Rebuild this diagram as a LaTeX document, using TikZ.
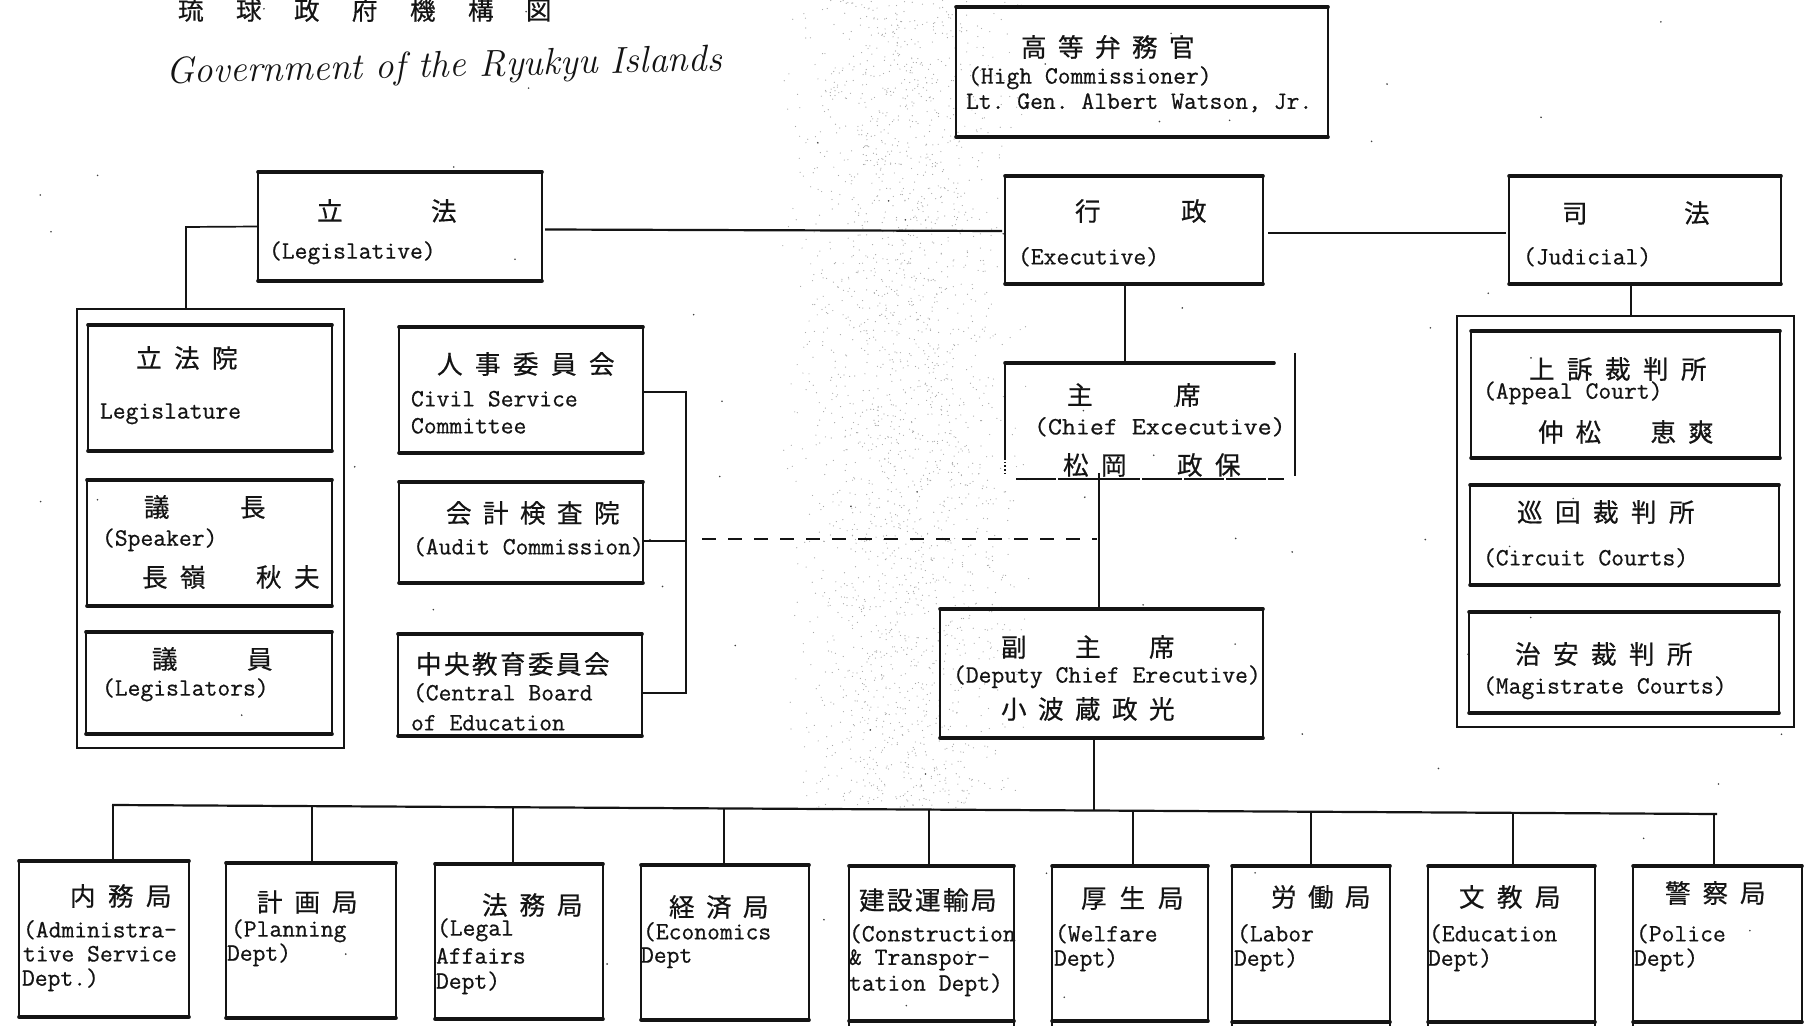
\documentclass[tikz,border=0pt]{standalone}
\usepackage{fontspec}
\usetikzlibrary{calc}
\newfontfamily\cjk[FakeBold=0.5]{Noto Sans CJK JP}
\setmonofont[FakeBold=0.6]{Latin Modern Mono}
\newcommand{\cjseq}[2]{\foreach \c in {#2}{\makebox[\dimexpr #1pt/2\relax][l]{\c}}}
\newcommand{\boxat}[6][boxn]{%
  \pgfmathsetmacro\bw{#5-#3}\pgfmathsetmacro\bh{#6-#4}%
  \pgfmathsetmacro\bx{(#3+#5)/2}\pgfmathsetmacro\by{(#4+#6)/2}%
  \node[#1,minimum width=\bw*0.5pt,minimum height=\bh*0.5pt] (#2) at (\bx,\by) {};}
\newcommand{\tw}[4]{\node[twtext] (#1) at (#2,#3) {#4};}
\newcommand{\cj}[5]{\node[cjtext] (#1) at (#2,#3) {\cjseq{#4}{#5}};}
\tikzset{
  x=0.5pt,y=-0.5pt,
  boxn/.style={draw=inkc,line width=0.95pt,inner sep=0pt,outer sep=0pt,fill=none},
  ghost/.style={inner sep=0pt,outer sep=0pt},
  edge/.style={draw=inkc,line width=1.8pt,line cap=round},
  conn/.style={draw=inkc,line width=0.85pt},
  conb/.style={draw=inkc,line width=1.1pt},
  twtext/.style={anchor=west,inner sep=0pt,outer sep=0pt,yshift=-0.4pt,text=inkc,font=\ttfamily\fontsize{12.45}{14}\selectfont},
  cjtext/.style={anchor=west,inner sep=0pt,outer sep=0pt,text=inkc,font=\cjk\fontsize{12.8}{14}\selectfont},
}
\definecolor{inkc}{RGB}{20,20,20}
\begin{document}
\begin{tikzpicture}
\useasboundingbox (0,0) rectangle (1804,1026);
\fill[white] (0,0) rectangle (1804,1026);
% scanner speckle
\pgfmathsetseed{41}
\foreach \i in {1,...,2400}{
  \pgfmathsetmacro\sx{905+rand*70+rand*55}
  \pgfmathsetmacro\sy{395+rand*415}
  \fill[black!35] (\sx,\sy) circle (0.3pt);
}
\foreach \i in {1,...,70}{
  \pgfmathsetmacro\sx{902+rand*900}
  \pgfmathsetmacro\sy{513+rand*510}
  \fill[black!75] (\sx,\sy) circle (0.45pt);
}
% boxes
\boxat{hc}{956}{7}{1328}{137}
\boxat{leg}{258}{172}{542}{281}
\boxat{exec}{1005}{176}{1263}{284}
\boxat{jud}{1509}{176}{1781}{284}
\boxat{legouter}{77}{309}{344}{748}
\boxat{legis}{88}{325}{332}{451}
\boxat{speaker}{87}{480}{332}{606}
\boxat{members}{86}{632}{332}{734}
\boxat{civil}{399}{327}{643}{453}
\boxat{audit}{399}{482}{643}{583}
\boxat{board}{398}{634}{642}{736}
\boxat[ghost]{chief}{1005}{363}{1295}{479}
\boxat{deputy}{940}{609}{1263}{738}
\boxat{judouter}{1457}{316}{1794}{727}
\boxat{appeal}{1471}{331}{1780}{458}
\boxat{circuit}{1470}{485}{1779}{585}
\boxat{magis}{1469}{612}{1779}{713}
\boxat{admin}{19}{861}{189}{1017}
\boxat{plan}{226}{863}{396}{1018}
\boxat{legal}{435}{864}{603}{1019}
\boxat{econ}{641}{865}{809}{1020}
\boxat{constr}{849}{866}{1014}{1021}
\boxat{welfare}{1052}{866}{1208}{1021}
\boxat{labor}{1232}{866}{1390}{1022}
\boxat{edu}{1428}{866}{1595}{1022}
\boxat{police}{1633}{866}{1802}{1022}
% heavy top and bottom edges
\foreach \n in {hc,leg,exec,jud,legis,speaker,members,civil,audit,board,deputy,appeal,circuit,magis,admin,plan,legal,econ,constr,welfare,labor,edu,police}{
  \draw[edge] (\n.north west) -- (\n.north east);
  \draw[edge] (\n.south west) -- (\n.south east);
}
% side walls running on to the page edge
\foreach \p in {constr.south west,constr.south east,welfare.south west,labor.south west,labor.south east,edu.south west,edu.south east,police.south west}{
  \draw[conn] (\p) -- (\p |- 0,1026);
}
% broken chief executive frame
\draw[edge] (chief.north west) -- (chief.north west -| 1274,0);
\draw[conb] (chief.north west) -- (chief.west |- 0,458);
\draw[conn,densely dotted] (chief.west |- 0,458) -- (chief.west |- 0,474);
\draw[conn] (chief.east |- 0,353) -- (chief.east |- 0,476);
\draw[conn,dash pattern=on 20pt off 1pt] (1016,0 |- chief.south) -- (1284,0 |- chief.south);
% connectors
\coordinate (legdrop) at (186,227);
\draw[conn] (leg.west) -- (legdrop) -- (legdrop |- legouter.north);
\draw[conb] ([shift={(3,3)}]leg.east) -- ([shift={(-3,1)}]exec.west);
\draw[conb] ([shift={(5,3)}]exec.east) -- ([shift={(-3,3)}]jud.west);
\draw[conn] (1125,0 |- exec.south) -- (1125,0 |- chief.north);
\draw[conn] (1631,0 |- jud.south) -- (1631,0 |- judouter.north);
\draw[conn] (1099,473) -- (1099,0 |- deputy.north);
\coordinate (brtop) at (686,392);
\coordinate (brbot) at (686,693);
\draw[conb] (civil.east |- brtop) -- (brtop) -- (brbot) -- (board.east |- brbot);
\draw[conn] (audit.east |- 0,541) -- (brtop |- 0,541);
\coordinate (dashstart) at (702,539);
\draw[conb,dash pattern=on 7pt off 6pt] (dashstart) -- (dashstart -| 1097,0);
\coordinate (busL) at (112,805);
\coordinate (busR) at (1717,814);
\draw[conb] (busL) -- (busR);
\draw[conn] (1094,0 |- deputy.south) -- (1094,811);
\foreach \n/\x in {admin/113,plan/312,legal/513,econ/724,constr/929,welfare/1133,labor/1311,edu/1513,police/1714}{
  \pgfmathsetmacro\yb{805+9*(\x-112)/1605}
  \draw[conn] (\x,\yb) -- (\x,0 |- \n.north);
}
% title
\cj{title}{178}{10}{58}{琉,球,政,府,機,構,図}
\node[anchor=west,inner sep=0pt,rotate=1.3,text=inkc,font=\itshape\fontsize{18.7}{22}\selectfont] (hand) at (166,74) {Government of the Ryukyu Islands};
% texts
\cj{hcj}{1021}{47}{37}{高,等,弁,務,官}
\tw{hce}{968}{77}{(High Commissioner)}
\tw{hcn}{966}{102}{Lt. Gen. Albert Watson, Jr.}
\cj{legj}{317}{211}{114}{立,法}
\tw{lege}{269}{252}{(Legislative)}
\cj{exj}{1075}{211}{106}{行,政}
\tw{exe}{1018}{256}{(Executive)}
\cj{juj}{1562}{213}{122}{司,法}
\tw{jue}{1523}{256}{(Judicial)}
\cj{lsj}{136}{358}{38}{立,法,院}
\tw{lse}{100}{413}{Legislature}
\cj{spj}{144}{507}{96}{議,長}
\tw{spe}{102}{539}{(Speaker)}
\cj{spn}{142}{577}{38}{長,嶺,{},秋,夫}
\cj{mej}{152}{659}{95}{議,員}
\tw{mee}{102}{689}{(Legislators)}
\cj{cij}{437}{364}{38}{人,事,委,員,会}
\tw{cie}{411}{398}{Civil Service}
\tw{cif}{411}{425}{Committee}
\cj{auj}{446}{513}{37}{会,計,検,査,院}
\tw{aue}{413}{546}{(Audit Commission)}
\cj{boj}{416}{664}{28}{中,央,教,育,委,員,会}
\tw{boe}{413}{692}{(Central Board}
\tw{bof}{411}{722}{of Education}
\cj{chj}{1067}{395}{108}{主,席}
\node[twtext] (che) at (1034,426) {\scalebox{1.09}[1]{(Chief Excecutive)}};
\cj{chn}{1063}{465}{38}{松,岡,{},政,保}
\cj{dej}{1001}{647}{74}{副,主,席}
\tw{dee}{953}{676}{(Deputy Chief Erecutive)}
\cj{den}{1001}{709}{37}{小,波,蔵,政,光}
\cj{apj}{1529}{369}{38}{上,訴,裁,判,所}
\tw{ape}{1483}{392}{(Appeal Court)}
\cj{apn}{1538}{432}{37.5}{仲,松,{},恵,爽}
\cj{crj}{1517}{512}{38}{巡,回,裁,判,所}
\tw{cre}{1483}{557}{(Circuit Courts)}
\cj{maj}{1515}{654}{38}{治,安,裁,判,所}
\tw{mae}{1483}{687}{(Magistrate Courts)}
\cj{adj}{70}{896}{38}{内,務,局}
\tw{ad1}{23}{929}{(Administra-}
\tw{ad2}{23}{953}{tive Service}
\tw{ad3}{22}{979}{Dept.)}
\cj{plj}{257}{902}{37.5}{計,画,局}
\tw{pl1}{231}{930}{(Planning}
\tw{pl2}{227}{954}{Dept)}
\cj{laj}{482}{905}{37.5}{法,務,局}
\tw{la1}{437}{929}{(Legal}
\tw{la2}{436}{955}{Affairs}
\tw{la3}{436}{982}{Dept)}
\cj{ecj}{669}{907}{37}{経,済,局}
\tw{ec1}{643}{931}{(Economics}
\tw{ec2}{641}{957}{Dept}
\cj{coj}{859}{900}{28}{建,設,運,輸,局}
\tw{co1}{849}{933}{(Construction}
\tw{co2}{849}{959}{\& Transpor-}
\tw{co3}{849}{984}{tation Dept)}
\cj{wej}{1081}{898}{38.5}{厚,生,局}
\tw{we1}{1055}{933}{(Welfare}
\tw{we2}{1054}{959}{Dept)}
\cj{lbj}{1271}{897}{37}{労,働,局}
\tw{lb1}{1237}{933}{(Labor}
\tw{lb2}{1234}{959}{Dept)}
\cj{edj}{1459}{897}{38}{文,教,局}
\tw{ed1}{1429}{933}{(Education}
\tw{ed2}{1428}{959}{Dept)}
\cj{poj}{1665}{893}{37.5}{警,察,局}
\tw{po1}{1636}{933}{(Police}
\tw{po2}{1634}{959}{Dept)}
\end{tikzpicture}
\end{document}
